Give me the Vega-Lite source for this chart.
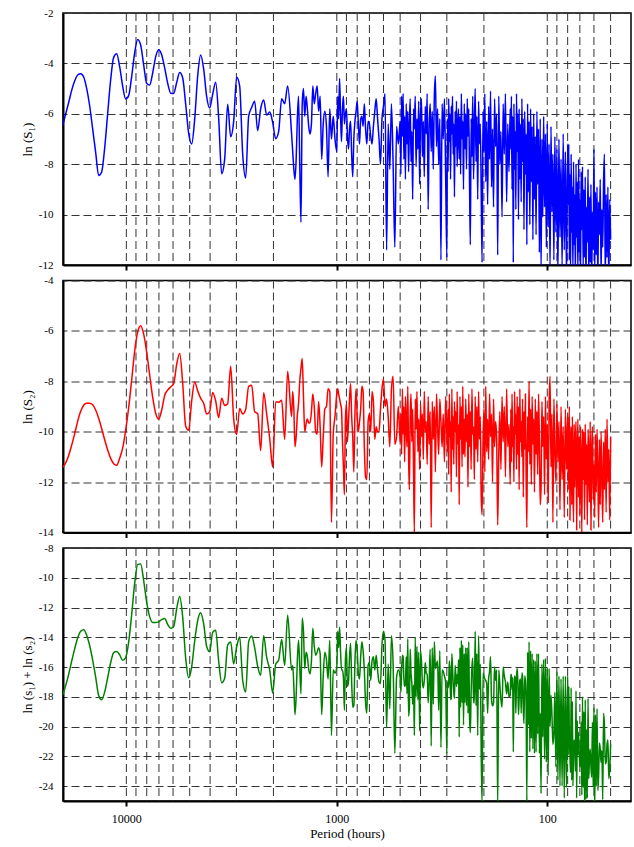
{
"$schema":"https://vega.github.io/schema/vega-lite/v6.json",
"background":"white",
"padding":{"left":20,"top":6,"right":3,"bottom":2},
"spacing":1.5,
"config":{
"view":{"stroke":"black","strokeWidth":1.5},
"font":"Liberation Serif",
"axis":{"labelFont":"Liberation Serif","titleFont":"Liberation Serif","labelFontSize":11,"titleFontSize":13,"titleFontWeight":"normal","labelColor":"black","titleColor":"black","domainColor":"black","domainWidth":2,"tickColor":"black"}
},
"datasets":{
"g":[{"g":10000},{"g":9000},{"g":8000},{"g":7000},{"g":6000},{"g":5000},{"g":4000},{"g":3000},{"g":2000},{"g":1000},{"g":900},{"g":800},{"g":700},{"g":600},{"g":500},{"g":400},{"g":300},{"g":200},{"g":100},{"g":90},{"g":80},{"g":70},{"g":60},{"g":50}],
"s":[
{"p":20070,"a":-6.47,"b":-11.42,"c":-17.89},
{"p":19425,"a":-6.01,"b":-11.24,"c":-17.25},
{"p":18798,"a":-5.55,"b":-10.94,"c":-16.49},
{"p":18191,"a":-5.07,"b":-10.54,"c":-15.61},
{"p":17604,"a":-4.70,"b":-10.08,"c":-14.78},
{"p":17035,"a":-4.46,"b":-9.59,"c":-14.05},
{"p":16485,"a":-4.41,"b":-9.19,"c":-13.60},
{"p":15953,"a":-4.54,"b":-8.95,"c":-13.49},
{"p":15438,"a":-4.99,"b":-8.87,"c":-13.86},
{"p":14939,"a":-5.68,"b":-8.87,"c":-14.55},
{"p":14457,"a":-6.60,"b":-8.93,"c":-15.53},
{"p":13990,"a":-7.53,"b":-9.14,"c":-16.67},
{"p":13538,"a":-8.45,"b":-9.47,"c":-17.92},
{"p":13101,"a":-8.31,"b":-9.88,"c":-18.19},
{"p":12678,"a":-7.36,"b":-10.32,"c":-17.68},
{"p":12268,"a":-5.99,"b":-10.73,"c":-16.72},
{"p":11872,"a":-4.65,"b":-11.06,"c":-15.71},
{"p":11489,"a":-3.76,"b":-11.27,"c":-15.03},
{"p":11118,"a":-3.62,"b":-11.33,"c":-14.95},
{"p":10759,"a":-4.13,"b":-11.05,"c":-15.18},
{"p":10411,"a":-4.90,"b":-10.65,"c":-15.55},
{"p":10075,"a":-5.41,"b":-9.95,"c":-15.36},
{"p":9750,"a":-5.28,"b":-9.05,"c":-14.33},
{"p":9435,"a":-4.52,"b":-7.95,"c":-12.47},
{"p":9130,"a":-3.58,"b":-6.80,"c":-10.38},
{"p":8835,"a":-3.05,"b":-6.05,"c":-9.10},
{"p":8550,"a":-3.27,"b":-5.80,"c":-9.07},
{"p":8274,"a":-4.06,"b":-6.13,"c":-10.19},
{"p":8007,"a":-4.79,"b":-6.84,"c":-11.63},
{"p":7748,"a":-4.86,"b":-7.75,"c":-12.61},
{"p":7498,"a":-4.38,"b":-8.63,"c":-13.01},
{"p":7256,"a":-3.74,"b":-9.27,"c":-13.01},
{"p":7021,"a":-3.46,"b":-9.50,"c":-12.96},
{"p":6795,"a":-3.66,"b":-9.15,"c":-12.81},
{"p":6575,"a":-4.18,"b":-8.56,"c":-12.74},
{"p":6363,"a":-4.78,"b":-8.35,"c":-13.13},
{"p":6157,"a":-5.18,"b":-8.22,"c":-13.40},
{"p":5958,"a":-5.19,"b":-8.09,"c":-13.28},
{"p":5766,"a":-4.76,"b":-7.33,"c":-12.09},
{"p":5580,"a":-4.36,"b":-6.90,"c":-11.26},
{"p":5400,"a":-4.57,"b":-8.06,"c":-12.63},
{"p":5225,"a":-5.62,"b":-9.78,"c":-15.40},
{"p":5057,"a":-6.78,"b":-9.94,"c":-16.72},
{"p":4893,"a":-7.20,"b":-8.78,"c":-15.98},
{"p":4735,"a":-6.22,"b":-8.03,"c":-14.25},
{"p":4582,"a":-4.50,"b":-8.38,"c":-12.88},
{"p":4434,"a":-3.67,"b":-8.68,"c":-12.35},
{"p":4291,"a":-4.23,"b":-8.87,"c":-13.10},
{"p":4153,"a":-5.32,"b":-9.30,"c":-14.62},
{"p":4019,"a":-5.77,"b":-9.20,"c":-14.97},
{"p":3889,"a":-5.23,"b":-8.44,"c":-13.67},
{"p":3763,"a":-4.75,"b":-8.78,"c":-13.53},
{"p":3642,"a":-6.17,"b":-9.44,"c":-15.61},
{"p":3524,"a":-8.38,"b":-8.67,"c":-17.05},
{"p":3410,"a":-7.79,"b":-8.96,"c":-16.75},
{"p":3300,"a":-5.62,"b":-8.89,"c":-14.51},
{"p":3194,"a":-6.91,"b":-7.40,"c":-14.31},
{"p":3091,"a":-6.30,"b":-9.49,"c":-15.79},
{"p":2991,"a":-4.55,"b":-10.11,"c":-14.66},
{"p":2894,"a":-4.90,"b":-9.08,"c":-13.98},
{"p":2801,"a":-7.58,"b":-9.30,"c":-16.88},
{"p":2710,"a":-8.55,"b":-9.12,"c":-17.67},
{"p":2623,"a":-6.09,"b":-8.20,"c":-14.29},
{"p":2538,"a":-5.75,"b":-8.16,"c":-13.91},
{"p":2456,"a":-5.50,"b":-9.21,"c":-14.71},
{"p":2377,"a":-6.67,"b":-9.28,"c":-15.95},
{"p":2300,"a":-5.80,"b":-10.75,"c":-16.55},
{"p":2226,"a":-5.45,"b":-8.45,"c":-13.90},
{"p":2154,"a":-6.05,"b":-9.30,"c":-15.35},
{"p":2084,"a":-5.93,"b":-10.26,"c":-16.19},
{"p":2017,"a":-6.34,"b":-11.40,"c":-17.74},
{"p":1952,"a":-6.99,"b":-8.82,"c":-15.81},
{"p":1889,"a":-6.70,"b":-8.83,"c":-15.53},
{"p":1828,"a":-5.40,"b":-8.75,"c":-14.15},
{"p":1769,"a":-5.60,"b":-10.30,"c":-15.90},
{"p":1712,"a":-4.90,"b":-7.60,"c":-12.50},
{"p":1640,"a":-6.8,"b":-9.4,"c":-16.2},
{"p":1620,"a":-7.5,"b":-8.4,"c":-15.9},
{"p":1600,"a":-8.2,"b":-9.1,"c":-17.3},
{"p":1580,"a":-8.6,"b":-10.6,"c":-19.2},
{"p":1560,"a":-7.8,"b":-10.2,"c":-18.0},
{"p":1540,"a":-6.2,"b":-9.35,"c":-15.55},
{"p":1520,"a":-5.3,"b":-8.9,"c":-14.2},
{"p":1500,"a":-8.0,"b":-8.0,"c":-16.0},
{"p":1480,"a":-10.3,"b":-7.5,"c":-17.8},
{"p":1460,"a":-5.6,"b":-7.1,"c":-12.7},
{"p":1440,"a":-5.0,"b":-8.6,"c":-13.6},
{"p":1420,"a":-6.1,"b":-10.0,"c":-16.1},
{"p":1400,"a":-5.3,"b":-9.7,"c":-15.0},
{"p":1380,"a":-5.8,"b":-9.5,"c":-15.3},
{"p":1360,"a":-6.5,"b":-9.65,"c":-16.15},
{"p":1340,"a":-6.8,"b":-9.65,"c":-16.45},
{"p":1320,"a":-6.4,"b":-9.2,"c":-15.6},
{"p":1300,"a":-4.9,"b":-8.5,"c":-13.4},
{"p":1280,"a":-5.6,"b":-9.0,"c":-14.6},
{"p":1260,"a":-5.2,"b":-10.0,"c":-15.2},
{"p":1240,"a":-4.9,"b":-10.1,"c":-15.0},
{"p":1220,"a":-5.9,"b":-8.8,"c":-14.7},
{"p":1200,"a":-5.3,"b":-9.8,"c":-15.1},
{"p":1180,"a":-7.8,"b":-11.4,"c":-19.2},
{"p":1160,"a":-6.4,"b":-10.2,"c":-16.6},
{"p":1140,"a":-5.9,"b":-9.1,"c":-15.0},
{"p":1120,"a":-6.5,"b":-9.0,"c":-15.5},
{"p":1100,"a":-8.5,"b":-8.3,"c":-16.8},
{"p":1080,"a":-5.8,"b":-8.4,"c":-14.2},
{"p":1060,"a":-7.0,"b":-13.6,"c":-20.6},
{"p":1040,"a":-6.1,"b":-10.1,"c":-16.2},
{"p":1020,"a":-7.0,"b":-9.4,"c":-16.4},
{"p":1000,"a":-7.5,"b":-8.5,"c":-16.0},
{"p":990,"a":-5.3,"b":-8.3,"c":-13.6},
{"p":980,"a":-6.2,"b":-8.5,"c":-14.7},
{"p":970,"a":-4.6,"b":-8.7,"c":-13.3},
{"p":960,"a":-6.0,"b":-8.9,"c":-14.9},
{"p":950,"a":-7.1,"b":-9.1,"c":-16.2},
{"p":940,"a":-5.8,"b":-10.4,"c":-16.2},
{"p":930,"a":-5.3,"b":-11.4,"c":-16.7},
{"p":920,"a":-6.4,"b":-12.5,"c":-18.9},
{"p":910,"a":-6.0,"b":-9.5,"c":-15.5},
{"p":900,"a":-5.8,"b":-8.9,"c":-14.7},
{"p":890,"a":-6.9,"b":-10.4,"c":-17.3},
{"p":880,"a":-7.4,"b":-9.6,"c":-17.0},
{"p":870,"a":-6.6,"b":-8.7,"c":-15.3},
{"p":860,"a":-6.3,"b":-8.1,"c":-14.4},
{"p":850,"a":-7.6,"b":-9.4,"c":-17.0},
{"p":840,"a":-8.5,"b":-10.2,"c":-18.7},
{"p":830,"a":-7.0,"b":-11.6,"c":-18.6},
{"p":820,"a":-6.3,"b":-9.3,"c":-15.6},
{"p":810,"a":-5.9,"b":-8.3,"c":-14.2},
{"p":800,"a":-5.5,"b":-9.4,"c":-14.9},
{"p":790,"a":-6.4,"b":-10.0,"c":-16.4},
{"p":780,"a":-7.2,"b":-9.6,"c":-16.8},
{"p":770,"a":-6.2,"b":-9.1,"c":-15.3},
{"p":760,"a":-6.1,"b":-8.2,"c":-14.3},
{"p":750,"a":-6.5,"b":-8.4,"c":-14.9},
{"p":740,"a":-5.6,"b":-10.6,"c":-16.2},
{"p":730,"a":-6.6,"b":-11.8,"c":-18.4},
{"p":720,"a":-7.2,"b":-11.9,"c":-19.1},
{"p":710,"a":-6.3,"b":-9.6,"c":-15.9},
{"p":700,"a":-6.4,"b":-9.3,"c":-15.7},
{"p":690,"a":-6.9,"b":-10.0,"c":-16.9},
{"p":680,"a":-7.2,"b":-8.4,"c":-15.6},
{"p":670,"a":-6.5,"b":-8.8,"c":-15.3},
{"p":660,"a":-5.9,"b":-10.3,"c":-16.2},
{"p":650,"a":-5.4,"b":-9.8,"c":-15.2},
{"p":640,"a":-6.2,"b":-10.0,"c":-16.2},
{"p":630,"a":-7.0,"b":-10.0,"c":-17.0},
{"p":620,"a":-8.0,"b":-9.1,"c":-17.1},
{"p":610,"a":-6.2,"b":-8.3,"c":-14.5},
{"p":600,"a":-5.7,"b":-7.9,"c":-13.6},
{"p":590,"a":-5.2,"b":-9.0,"c":-14.2},
{"p":580,"a":-11.4,"b":-8.7,"c":-20.1},
{"p":570,"a":-6.4,"b":-9.4,"c":-15.8},
{"p":560,"a":-8.2,"b":-10.6,"c":-18.8},
{"p":550,"a":-5.6,"b":-8.3,"c":-13.9},
{"p":540,"a":-8.0,"b":-7.8,"c":-15.8},
{"p":530,"a":-11.3,"b":-10.5,"c":-21.8},
{"p":520,"a":-6.5,"b":-10.2,"c":-16.7},
{"p":510,"a":-7.2,"b":-9.0,"c":-16.2},
{"p":500,"a":-6.3,"b":-10.4,"c":-16.7},
{"p":496,"a":-8.4,"b":-9.3,"c":-17.7},
{"p":492,"a":-5.3,"b":-10.9,"c":-16.2},
{"p":488,"a":-6.9,"b":-8.3,"c":-15.2},
{"p":484,"a":-5.2,"b":-10.1,"c":-15.3},
{"p":480,"a":-7.8,"b":-9.0,"c":-16.8},
{"p":476,"a":-6.1,"b":-11.2,"c":-17.3},
{"p":472,"a":-8.6,"b":-8.6,"c":-17.2},
{"p":468,"a":-5.6,"b":-9.7,"c":-15.3},
{"p":464,"a":-7.2,"b":-10.6,"c":-17.8},
{"p":460,"a":-5.9,"b":-8.2,"c":-14.1},
{"p":456,"a":-8.3,"b":-11.0,"c":-19.3},
{"p":452,"a":-6.4,"b":-12.3,"c":-18.7},
{"p":448,"a":-5.4,"b":-9.4,"c":-14.8},
{"p":444,"a":-7.9,"b":-8.5,"c":-16.4},
{"p":440,"a":-6.7,"b":-10.4,"c":-17.1},
{"p":436,"a":-9.4,"b":-9.1,"c":-18.5},
{"p":432,"a":-5.8,"b":-11.4,"c":-17.2},
{"p":428,"a":-6.6,"b":-14.0,"c":-20.6},
{"p":424,"a":-5.3,"b":-8.7,"c":-14.0},
{"p":420,"a":-8.1,"b":-9.9,"c":-18.0},
{"p":416,"a":-6.2,"b":-8.4,"c":-14.6},
{"p":412,"a":-7.4,"b":-10.8,"c":-18.2},
{"p":408,"a":-5.5,"b":-9.5,"c":-15.0},
{"p":404,"a":-8.8,"b":-11.5,"c":-20.3},
{"p":400,"a":-6.0,"b":-8.9,"c":-14.9},
{"p":396,"a":-5.4,"b":-10.2,"c":-15.6},
{"p":392,"a":-7.7,"b":-9.3,"c":-17.0},
{"p":388,"a":-6.3,"b":-11.1,"c":-17.4},
{"p":384,"a":-8.5,"b":-8.4,"c":-16.9},
{"p":380,"a":-5.7,"b":-10.0,"c":-15.7},
{"p":376,"a":-6.8,"b":-9.6,"c":-16.4},
{"p":372,"a":-5.2,"b":-11.3,"c":-16.5},
{"p":368,"a":-9.8,"b":-8.6,"c":-18.4},
{"p":364,"a":-6.5,"b":-10.5,"c":-17.0},
{"p":360,"a":-5.6,"b":-9.2,"c":-14.8},
{"p":356,"a":-7.5,"b":-13.8,"c":-21.3},
{"p":352,"a":-5.9,"b":-8.8,"c":-14.7},
{"p":348,"a":-8.2,"b":-10.3,"c":-18.5},
{"p":344,"a":-5.3,"b":-9.0,"c":-14.3},
{"p":340,"a":-4.5,"b":-11.6,"c":-16.1},
{"p":336,"a":-7.3,"b":-8.5,"c":-15.8},
{"p":332,"a":-5.8,"b":-9.8,"c":-15.6},
{"p":328,"a":-8.0,"b":-10.9,"c":-18.9},
{"p":324,"a":-6.2,"b":-8.7,"c":-14.9},
{"p":320,"a":-11.8,"b":-9.6,"c":-21.4},
{"p":316,"a":-5.6,"b":-10.6,"c":-16.2},
{"p":312,"a":-7.0,"b":-9.3,"c":-16.3},
{"p":308,"a":-5.4,"b":-11.2,"c":-16.6},
{"p":304,"a":-8.4,"b":-8.6,"c":-17.0},
{"p":300,"a":-11.7,"b":-10.1,"c":-21.8},
{"p":298,"a":-6.2,"b":-10.8,"c":-17.0},
{"p":296,"a":-8.3,"b":-9.1,"c":-17.4},
{"p":294,"a":-5.4,"b":-11.7,"c":-17.1},
{"p":292,"a":-7.1,"b":-8.5,"c":-15.6},
{"p":290,"a":-6.0,"b":-10.2,"c":-16.2},
{"p":288,"a":-8.6,"b":-9.6,"c":-18.2},
{"p":286,"a":-5.7,"b":-12.4,"c":-18.1},
{"p":284,"a":-6.8,"b":-8.3,"c":-15.1},
{"p":282,"a":-5.3,"b":-10.7,"c":-16.0},
{"p":280,"a":-7.6,"b":-9.4,"c":-17.0},
{"p":278,"a":-6.4,"b":-11.3,"c":-17.7},
{"p":276,"a":-9.3,"b":-8.8,"c":-18.1},
{"p":274,"a":-5.9,"b":-10.0,"c":-15.9},
{"p":272,"a":-7.3,"b":-9.2,"c":-16.5},
{"p":270,"a":-5.5,"b":-11.8,"c":-17.3},
{"p":268,"a":-8.1,"b":-8.4,"c":-16.5},
{"p":266,"a":-6.6,"b":-10.5,"c":-17.1},
{"p":264,"a":-5.8,"b":-9.7,"c":-15.5},
{"p":262,"a":-7.8,"b":-12.9,"c":-20.7},
{"p":260,"a":-6.1,"b":-8.6,"c":-14.7},
{"p":258,"a":-8.4,"b":-10.3,"c":-18.7},
{"p":256,"a":-5.2,"b":-9.0,"c":-14.2},
{"p":254,"a":-7.0,"b":-11.4,"c":-18.4},
{"p":252,"a":-6.3,"b":-8.2,"c":-14.5},
{"p":250,"a":-9.0,"b":-10.9,"c":-19.9},
{"p":248,"a":-5.6,"b":-9.5,"c":-15.1},
{"p":246,"a":-7.4,"b":-11.0,"c":-18.4},
{"p":244,"a":-6.0,"b":-8.7,"c":-14.7},
{"p":242,"a":-8.2,"b":-10.4,"c":-18.6},
{"p":240,"a":-5.4,"b":-9.3,"c":-14.7},
{"p":238,"a":-6.9,"b":-12.2,"c":-19.1},
{"p":236,"a":-5.8,"b":-8.5,"c":-14.3},
{"p":234,"a":-8.8,"b":-10.6,"c":-19.4},
{"p":232,"a":-11.2,"b":-9.2,"c":-20.4},
{"p":230,"a":-6.2,"b":-11.5,"c":-17.7},
{"p":228,"a":-7.7,"b":-8.3,"c":-16.0},
{"p":226,"a":-5.3,"b":-10.1,"c":-15.4},
{"p":224,"a":-8.6,"b":-9.8,"c":-18.4},
{"p":222,"a":-6.5,"b":-11.9,"c":-18.4},
{"p":220,"a":-5.0,"b":-8.6,"c":-13.6},
{"p":218,"a":-7.9,"b":-10.7,"c":-18.6},
{"p":216,"a":-6.1,"b":-9.0,"c":-15.1},
{"p":214,"a":-9.4,"b":-11.2,"c":-20.6},
{"p":212,"a":-5.5,"b":-8.4,"c":-13.9},
{"p":210,"a":-7.2,"b":-10.3,"c":-17.5},
{"p":208,"a":-6.4,"b":-9.4,"c":-15.8},
{"p":206,"a":-9.1,"b":-12.6,"c":-21.7},
{"p":204,"a":-11.9,"b":-13.3,"c":-25.2},
{"p":202,"a":-5.9,"b":-10.5,"c":-16.4},
{"p":200,"a":-7.5,"b":-9.1,"c":-16.6},
{"p":198,"a":-5.2,"b":-11.6,"c":-16.8},
{"p":196,"a":-8.7,"b":-8.2,"c":-16.9},
{"p":194,"a":-6.3,"b":-10.8,"c":-17.1},
{"p":192,"a":-9.6,"b":-9.5,"c":-19.1},
{"p":190,"a":-5.7,"b":-11.1,"c":-16.8},
{"p":188,"a":-7.8,"b":-8.5,"c":-16.3},
{"p":186,"a":-5.1,"b":-10.2,"c":-15.3},
{"p":184,"a":-8.9,"b":-9.3,"c":-18.2},
{"p":182,"a":-6.6,"b":-12.0,"c":-18.6},
{"p":180,"a":-9.7,"b":-8.7,"c":-18.4},
{"p":178,"a":-5.4,"b":-10.6,"c":-16.0},
{"p":176,"a":-7.3,"b":-9.6,"c":-16.9},
{"p":174,"a":-6.0,"b":-10.2,"c":-16.2},
{"p":172,"a":-11.6,"b":-13.7,"c":-25.3},
{"p":170,"a":-5.3,"b":-10.9,"c":-16.2},
{"p":168,"a":-8.0,"b":-9.2,"c":-17.2},
{"p":166,"a":-6.7,"b":-11.5,"c":-18.2},
{"p":164,"a":-10.1,"b":-8.6,"c":-18.7},
{"p":162,"a":-5.6,"b":-10.4,"c":-16.0},
{"p":160,"a":-7.6,"b":-9.0,"c":-16.6},
{"p":158,"a":-5.2,"b":-11.8,"c":-17.0},
{"p":156,"a":-9.5,"b":-8.3,"c":-17.8},
{"p":154,"a":-6.4,"b":-10.6,"c":-17.0},
{"p":152,"a":-8.3,"b":-9.7,"c":-18.0},
{"p":150,"a":-5.8,"b":-12.1,"c":-17.9},
{"p":149,"a":-7.4,"b":-9.1,"c":-16.5},
{"p":148,"a":-5.3,"b":-11.2,"c":-16.5},
{"p":147,"a":-9.0,"b":-8.5,"c":-17.5},
{"p":146,"a":-6.1,"b":-10.6,"c":-16.7},
{"p":145,"a":-11.9,"b":-9.8,"c":-21.7},
{"p":144,"a":-5.6,"b":-12.0,"c":-17.6},
{"p":143,"a":-8.2,"b":-8.4,"c":-16.6},
{"p":142,"a":-6.7,"b":-10.1,"c":-16.8},
{"p":141,"a":-9.8,"b":-9.3,"c":-19.1},
{"p":140,"a":-5.2,"b":-11.5,"c":-16.7},
{"p":139,"a":-7.5,"b":-8.6,"c":-16.1},
{"p":138,"a":-6.0,"b":-10.9,"c":-16.9},
{"p":137,"a":-10.2,"b":-9.0,"c":-19.2},
{"p":136,"a":-5.8,"b":-12.3,"c":-18.1},
{"p":135,"a":-8.6,"b":-8.3,"c":-16.9},
{"p":134,"a":-6.4,"b":-10.4,"c":-16.8},
{"p":133,"a":-9.5,"b":-9.6,"c":-19.1},
{"p":132,"a":-5.4,"b":-11.0,"c":-16.4},
{"p":131,"a":-7.9,"b":-8.7,"c":-16.6},
{"p":130,"a":-6.2,"b":-12.6,"c":-18.8},
{"p":129,"a":-10.6,"b":-9.2,"c":-19.8},
{"p":128,"a":-5.9,"b":-10.7,"c":-16.6},
{"p":127,"a":-8.4,"b":-8.5,"c":-16.9},
{"p":126,"a":-6.8,"b":-11.8,"c":-18.6},
{"p":125,"a":-11.2,"b":-13.8,"c":-25.0},
{"p":124,"a":-5.6,"b":-9.4,"c":-15.0},
{"p":123,"a":-9.1,"b":-10.8,"c":-19.9},
{"p":122,"a":-6.3,"b":-8.0,"c":-14.3},
{"p":121,"a":-10.4,"b":-11.3,"c":-21.7},
{"p":120,"a":-5.8,"b":-9.1,"c":-14.9},
{"p":119,"a":-8.7,"b":-12.1,"c":-20.8},
{"p":118,"a":-6.5,"b":-8.6,"c":-15.1},
{"p":117,"a":-11.0,"b":-10.5,"c":-21.5},
{"p":116,"a":-6.0,"b":-9.5,"c":-15.5},
{"p":115,"a":-9.4,"b":-12.4,"c":-21.8},
{"p":114,"a":-6.9,"b":-8.7,"c":-15.6},
{"p":113,"a":-10.8,"b":-10.9,"c":-21.7},
{"p":112,"a":-5.9,"b":-9.2,"c":-15.1},
{"p":111,"a":-8.8,"b":-11.7,"c":-20.5},
{"p":110,"a":-6.6,"b":-8.5,"c":-15.1},
{"p":109,"a":-11.5,"b":-10.3,"c":-21.8},
{"p":108,"a":-6.2,"b":-12.9,"c":-19.1},
{"p":107,"a":-12.3,"b":-12.2,"c":-24.5},
{"p":106,"a":-7.0,"b":-8.8,"c":-15.8},
{"p":105,"a":-10.1,"b":-10.6,"c":-20.7},
{"p":104,"a":-6.1,"b":-9.4,"c":-15.5},
{"p":103,"a":-9.7,"b":-12.5,"c":-22.2},
{"p":102,"a":-6.8,"b":-8.6,"c":-15.4},
{"p":101,"a":-11.3,"b":-11.1,"c":-22.4},
{"p":100,"a":-6.4,"b":-9.7,"c":-16.1},
{"p":99,"a":-10.5,"b":-12.8,"c":-23.3},
{"p":98,"a":-7.2,"b":-8.9,"c":-16.1},
{"p":97,"a":-12.2,"b":-7.8,"c":-20.0},
{"p":96,"a":-6.5,"b":-11.4,"c":-17.9},
{"p":95,"a":-9.9,"b":-9.3,"c":-19.2},
{"p":94,"a":-7.6,"b":-13.6,"c":-21.2},
{"p":93,"a":-11.8,"b":-8.7,"c":-20.5},
{"p":92,"a":-6.9,"b":-10.8,"c":-17.7},
{"p":91,"a":-10.7,"b":-12.0,"c":-22.7},
{"p":90,"a":-7.4,"b":-8.9,"c":-16.3},
{"p":89,"a":-12.4,"b":-11.2,"c":-23.6},
{"p":88,"a":-7.0,"b":-9.6,"c":-16.6},
{"p":87,"a":-10.9,"b":-13.1,"c":-24.0},
{"p":86,"a":-7.8,"b":-9.0,"c":-16.8},
{"p":85,"a":-12.1,"b":-11.9,"c":-24.0},
{"p":84,"a":-6.8,"b":-9.8,"c":-16.6},
{"p":83,"a":-11.4,"b":-13.4,"c":-24.8},
{"p":82,"a":-7.5,"b":-9.1,"c":-16.6},
{"p":81,"a":-12.6,"b":-11.5,"c":-24.1},
{"p":80,"a":-7.2,"b":-9.4,"c":-16.6},
{"p":79.5,"a":-9.6,"b":-12.3,"c":-21.9},
{"p":79,"a":-7.2,"b":-10.1,"c":-17.3},
{"p":78.5,"a":-11.8,"b":-9.0,"c":-20.8},
{"p":78,"a":-8.4,"b":-13.5,"c":-21.9},
{"p":77.5,"a":-12.5,"b":-10.6,"c":-23.1},
{"p":77,"a":-7.6,"b":-9.8,"c":-17.4},
{"p":76.5,"a":-10.7,"b":-12.9,"c":-23.6},
{"p":76,"a":-8.9,"b":-9.4,"c":-18.3},
{"p":75.5,"a":-12.3,"b":-11.7,"c":-24.0},
{"p":75,"a":-7.9,"b":-13.6,"c":-21.5},
{"p":74.5,"a":-11.2,"b":-9.7,"c":-20.9},
{"p":74,"a":-9.2,"b":-12.2,"c":-21.4},
{"p":73.5,"a":-12.6,"b":-10.4,"c":-23.0},
{"p":73,"a":-8.0,"b":-9.6,"c":-17.6},
{"p":72.5,"a":-10.9,"b":-13.9,"c":-24.8},
{"p":72,"a":-8.7,"b":-10.9,"c":-19.6},
{"p":71.5,"a":-12.4,"b":-9.5,"c":-21.9},
{"p":71,"a":-7.8,"b":-12.6,"c":-20.4},
{"p":70.5,"a":-11.5,"b":-10.2,"c":-21.7},
{"p":70,"a":-9.4,"b":-13.3,"c":-22.7},
{"p":69.5,"a":-12.7,"b":-9.8,"c":-22.5},
{"p":69,"a":-8.3,"b":-11.4,"c":-19.7},
{"p":68.5,"a":-10.6,"b":-14.0,"c":-24.6},
{"p":68,"a":-8.1,"b":-9.9,"c":-18.0},
{"p":67.5,"a":-12.2,"b":-11.9,"c":-24.1},
{"p":67,"a":-9.0,"b":-10.0,"c":-19.0},
{"p":66.5,"a":-11.7,"b":-13.5,"c":-25.2},
{"p":66,"a":-8.5,"b":-9.7,"c":-18.2},
{"p":65.5,"a":-12.8,"b":-12.1,"c":-24.9},
{"p":65,"a":-9.7,"b":-10.5,"c":-20.2},
{"p":64.5,"a":-11.1,"b":-13.7,"c":-24.8},
{"p":64,"a":-8.2,"b":-9.9,"c":-18.1},
{"p":63.5,"a":-12.5,"b":-11.0,"c":-23.5},
{"p":63,"a":-9.3,"b":-12.8,"c":-22.1},
{"p":62.5,"a":-11.9,"b":-9.6,"c":-21.5},
{"p":62,"a":-8.8,"b":-13.9,"c":-22.7},
{"p":61.5,"a":-12.6,"b":-10.8,"c":-23.4},
{"p":61,"a":-9.9,"b":-9.8,"c":-19.7},
{"p":60.5,"a":-11.4,"b":-12.7,"c":-24.1},
{"p":60,"a":-7.4,"b":-11.3,"c":-18.7},
{"p":59.5,"a":-12.3,"b":-13.4,"c":-25.7},
{"p":59,"a":-9.1,"b":-10.1,"c":-19.2},
{"p":58.5,"a":-11.6,"b":-12.4,"c":-24.0},
{"p":58,"a":-8.9,"b":-9.9,"c":-18.8},
{"p":57.5,"a":-12.7,"b":-11.6,"c":-24.3},
{"p":57,"a":-9.5,"b":-13.8,"c":-23.3},
{"p":56.5,"a":-10.8,"b":-10.3,"c":-21.1},
{"p":56,"a":-8.6,"b":-12.9,"c":-21.5},
{"p":55.5,"a":-12.4,"b":-10.0,"c":-22.4},
{"p":55,"a":-9.8,"b":-11.8,"c":-21.6},
{"p":54.5,"a":-11.3,"b":-13.6,"c":-24.9},
{"p":54,"a":-8.7,"b":-10.4,"c":-19.1},
{"p":53.5,"a":-7.6,"b":-12.3,"c":-19.9},
{"p":53,"a":-12.6,"b":-9.9,"c":-22.5},
{"p":52.5,"a":-9.2,"b":-13.2,"c":-22.4},
{"p":52,"a":-11.7,"b":-9.5,"c":-21.2},
{"p":51.5,"a":-8.9,"b":-12.0,"c":-20.9},
{"p":51,"a":-12.8,"b":-10.7,"c":-23.5},
{"p":50.5,"a":-9.4,"b":-13.5,"c":-22.9},
{"p":50,"a":-11.0,"b":-10.2,"c":-21.2}
]},
"vconcat":[
{"width":568,"height":252,
"layer":[
{"data":{"name":"g"},"mark":{"type":"rule","strokeDash":[8,4],"color":"#333333","strokeWidth":1},
"encoding":{"x":{"field":"g","type":"quantitative","scale":{"type":"log","domain":[40,20000],"reverse":true,"nice":false},
"axis":{"values":[10000,1000,100],"labels":false,"title":null,"grid":false,"tickSize":5,"tickWidth":2}}}},
{"data":{"name":"s"},"mark":{"type":"line","color":"#0000ff","strokeWidth":1.5,"interpolate":"monotone","clip":true},
"encoding":{"x":{"field":"p","type":"quantitative","scale":{"type":"log","domain":[40,20000],"reverse":true,"nice":false},
"axis":{"values":[10000,1000,100],"labels":false,"title":null,"grid":false,"tickSize":5,"tickWidth":2}},
"y":{"field":"a","type":"quantitative","scale":{"domain":[-12,-2],"nice":false,"zero":false},
"axis":{"values":[-12,-10,-8,-6,-4,-2],"title":"ln (S₁)","grid":true,"gridDash":[8,4],"gridColor":"#333333","gridWidth":1,"ticks":false,"labelPadding":10,"titlePadding":4,"labelOverlap":false,"labelExpr":"'' + datum.value"}}}}
]},
{"width":568,"height":252,
"layer":[
{"data":{"name":"g"},"mark":{"type":"rule","strokeDash":[8,4],"color":"#333333","strokeWidth":1},
"encoding":{"x":{"field":"g","type":"quantitative","scale":{"type":"log","domain":[40,20000],"reverse":true,"nice":false},
"axis":{"values":[10000,1000,100],"labels":false,"title":null,"grid":false,"tickSize":5,"tickWidth":2}}}},
{"data":{"name":"s"},"mark":{"type":"line","color":"#ff0000","strokeWidth":1.5,"interpolate":"monotone","clip":true},
"encoding":{"x":{"field":"p","type":"quantitative","scale":{"type":"log","domain":[40,20000],"reverse":true,"nice":false},
"axis":{"values":[10000,1000,100],"labels":false,"title":null,"grid":false,"tickSize":5,"tickWidth":2}},
"y":{"field":"b","type":"quantitative","scale":{"domain":[-14,-4],"nice":false,"zero":false},
"axis":{"values":[-14,-12,-10,-8,-6,-4],"title":"ln (S₂)","grid":true,"gridDash":[8,4],"gridColor":"#333333","gridWidth":1,"ticks":false,"labelPadding":10,"titlePadding":4,"labelOverlap":false,"labelExpr":"'' + datum.value"}}}}
]},
{"width":568,"height":253,
"layer":[
{"data":{"name":"g"},"mark":{"type":"rule","strokeDash":[8,4],"color":"#333333","strokeWidth":1},
"encoding":{"x":{"field":"g","type":"quantitative","scale":{"type":"log","domain":[40,20000],"reverse":true,"nice":false},
"axis":{"values":[10000,1000,100],"format":"d","labelFontSize":12,"labelPadding":7,"title":"Period (hours)","titlePadding":3,"grid":false,"tickSize":5,"tickWidth":2}}}},
{"data":{"name":"s"},"mark":{"type":"line","color":"#008000","strokeWidth":1.5,"interpolate":"monotone","clip":true},
"encoding":{"x":{"field":"p","type":"quantitative","scale":{"type":"log","domain":[40,20000],"reverse":true,"nice":false},
"axis":{"values":[10000,1000,100],"format":"d","labelFontSize":12,"labelPadding":7,"title":"Period (hours)","titlePadding":3,"grid":false,"tickSize":5,"tickWidth":2}},
"y":{"field":"c","type":"quantitative","scale":{"domain":[-25,-8],"nice":false,"zero":false},
"axis":{"values":[-24,-22,-20,-18,-16,-14,-12,-10,-8],"title":"ln (s₁) + ln (s₂)","grid":true,"gridDash":[8,4],"gridColor":"#333333","gridWidth":1,"ticks":false,"labelPadding":10,"titlePadding":4,"labelOverlap":false,"labelExpr":"'' + datum.value"}}}}
]}
]
}
